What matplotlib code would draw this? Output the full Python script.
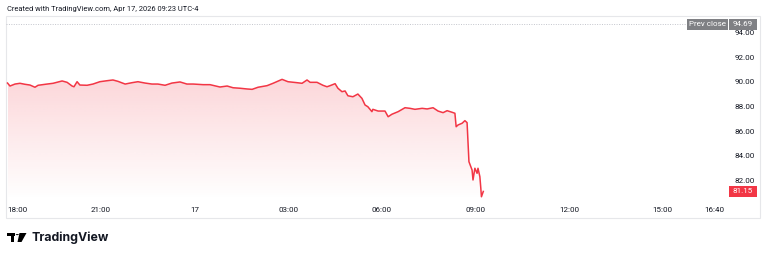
import numpy as np
import matplotlib
matplotlib.use("Agg")
import matplotlib.pyplot as plt
from matplotlib.patches import Rectangle, Polygon, Circle
from matplotlib.transforms import blended_transform_factory

# ---- data (hours since 18:00 previous day, price) ----
hours = [0.00, 0.08, 0.24, 0.40, 0.56, 0.72, 0.88, 0.98, 1.27, 1.46, 1.75, 1.91, 2.07, 2.13,
         2.23, 2.32, 2.55, 2.74, 2.96, 3.19, 3.38, 3.54, 3.77, 3.99, 4.18, 4.41, 4.63, 4.82,
         5.05, 5.27, 5.53, 5.75, 5.95, 6.27, 6.49, 6.81, 7.04, 7.23, 7.45, 7.68, 7.84, 8.03,
         8.32, 8.51, 8.80, 8.99, 9.28, 9.44, 9.60, 9.70, 9.92, 10.11, 10.24, 10.34, 10.50,
         10.59, 10.72, 10.82, 10.91, 11.07, 11.23, 11.36, 11.46, 11.55, 11.68, 11.71, 11.88,
         12.10, 12.20, 12.32, 12.52, 12.74, 12.90, 13.06, 13.29, 13.45, 13.64, 13.80, 13.96,
         14.09, 14.25, 14.34, 14.38, 14.44, 14.57, 14.66, 14.73, 14.79, 14.89, 14.92, 14.98,
         15.05, 15.08, 15.14, 15.17, 15.19, 15.25]
prices = [89.94, 89.70, 89.86, 89.92, 89.84, 89.78, 89.60, 89.76, 89.86, 89.92, 90.11, 90.00,
          89.70, 89.64, 90.05, 89.78, 89.76, 89.86, 90.05, 90.13, 90.19, 90.08, 89.86, 89.97,
          90.05, 89.94, 89.86, 89.86, 89.76, 89.94, 90.03, 89.86, 89.86, 89.81, 89.81, 89.62,
          89.70, 89.56, 89.52, 89.46, 89.43, 89.60, 89.73, 89.92, 90.24, 90.05, 89.97, 89.92,
          90.19, 90.00, 90.00, 89.76, 89.64, 89.73, 89.89, 89.52, 89.24, 89.30, 88.91, 88.83,
          89.05, 88.70, 88.16, 88.02, 87.62, 87.81, 87.67, 87.67, 87.21, 87.41, 87.62, 87.94,
          87.89, 87.81, 87.89, 87.84, 87.94, 87.67, 87.54, 87.70, 87.57, 87.49, 86.40, 86.54,
          86.68, 86.89, 86.73, 83.56, 82.89, 82.08, 83.03, 82.62, 83.03, 82.35, 81.42, 80.72,
          81.15]
prev_close = 94.69
last_price = 81.15
price_ticks = [82, 84, 86, 88, 90, 92, 94]
time_ticks = [0, 3, 6, 9, 12, 15, 18, 21, 22 + 40 / 60]
time_labels = ["18:00", "21:00", "17", "03:00", "06:00", "09:00", "12:00", "15:00", "16:40"]
header = "Created with TradingView.com, Apr 17, 2026 09:23 UTC-4"

RED = "#f23645"
GRAY = "#7f8084"
TXT = "#131722"
W, H = 768, 256

fig = plt.figure(figsize=(W / 100, H / 100), dpi=100)
fig.patch.set_facecolor("white")

px_l, px_r, px_t, px_b = 6, 760, 16, 200
ax = fig.add_axes([px_l / W, 1 - px_b / H, (px_r - px_l) / W, (px_b - px_t) / H])
ax.set_facecolor("none")
for s in ax.spines.values():
    s.set_visible(False)
ax.set_xticks([])
ax.set_yticks([])

ppu = 12.33
pph = 31.2
x0_px = 7.5
ymax = 94 + (33 - px_t) / ppu
ymin = 94 - (px_b - 33) / ppu
xmin = (px_l - x0_px) / pph
xmax = (px_r - x0_px) / pph

t = np.array(hours)
v = np.array(prices)

# gradient fill under the line
verts = np.vstack([np.column_stack([t, v]), [[t[-1], ymin], [t[0], ymin]]])
clip = Polygon(verts, closed=True, transform=ax.transData, facecolor="none", edgecolor="none")
ax.add_patch(clip)
top = v.max()
n = 256
grad = np.zeros((n, 1, 4))
grad[:, 0, 0] = 242 / 255
grad[:, 0, 1] = 54 / 255
grad[:, 0, 2] = 69 / 255
grad[:, 0, 3] = np.linspace(0.0, 0.2, n)
im = ax.imshow(grad, extent=[t.min(), t.max(), ymin, top], origin="lower",
               aspect="auto", zorder=1, interpolation="bilinear")
im.set_clip_path(clip)
ax.set_xlim(xmin, xmax)
ax.set_ylim(ymin, ymax)

ax.plot(t, v, color=RED, lw=1.1, zorder=3, solid_joinstyle="round")

xfrac_line_end = (687 - px_l) / (px_r - px_l)
ax.axhline(prev_close, xmin=0, xmax=xfrac_line_end, color="#c3c5cc", lw=0.7,
           ls=(0, (1, 1.5)), zorder=2)

tr = blended_transform_factory(ax.transAxes, ax.transData)
def fx(px):
    return (px - px_l) / (px_r - px_l)

FAM = ["Roboto", "DejaVu Sans"]
FS = 5.8
lab_font = dict(family=FAM, fontsize=FS, color=TXT)
for p in price_ticks:
    ax.text(fx(755), p, f"{p:.2f}", transform=tr, ha="right", va="center", **lab_font)

bh = 10.5 / ppu
ax.add_patch(Rectangle((fx(687), prev_close - bh / 2), fx(728) - fx(687), bh,
                       transform=tr, facecolor=GRAY, edgecolor="none", zorder=5, clip_on=False))
ax.add_patch(Rectangle((fx(729), prev_close - bh / 2), fx(757) - fx(729), bh,
                       transform=tr, facecolor=GRAY, edgecolor="none", zorder=5, clip_on=False))
ax.text((fx(687) + fx(728)) / 2, prev_close, "Prev close", transform=tr, ha="center",
        va="center", color="white", fontsize=FS, family=FAM, zorder=6)
ax.text((fx(729) + fx(757)) / 2, prev_close, f"{prev_close:.2f}", transform=tr, ha="center",
        va="center", color="white", fontsize=FS, family=FAM, zorder=6)
ax.add_patch(Rectangle((fx(729), last_price - bh / 2), fx(757) - fx(729), bh,
                       transform=tr, facecolor=RED, edgecolor="none", zorder=5, clip_on=False))
ax.text((fx(729) + fx(757)) / 2, last_price, f"{last_price:.2f}", transform=tr, ha="center",
        va="center", color="white", fontsize=FS, family=FAM, zorder=6)

trx = blended_transform_factory(ax.transData, ax.transAxes)
ylab = -10 / (px_b - px_t)
for i, (tt, lab) in enumerate(zip(time_ticks, time_labels)):
    ax.text(tt, ylab, lab, transform=trx, ha="left" if i == 0 else "center", va="center",
            clip_on=False, **lab_font)

fig.add_artist(Rectangle((px_l / W, 1 - 218 / H), (px_r - px_l) / W, (218 - px_t) / H,
                         transform=fig.transFigure, facecolor="none", edgecolor="#e6e7ea",
                         lw=0.8, zorder=0))

fig.text(7 / W, 1 - 9 / H, header, ha="left", va="center", fontsize=5.45,
         family=FAM, color=TXT)

def P(x, y):
    return (x / W, 1 - y / H)
fig.add_artist(Polygon([P(7, 233), P(15, 233), P(15, 236), P(14, 236), P(14, 242),
                        P(11, 242), P(11, 236), P(7, 236)], closed=True,
                       transform=fig.transFigure, facecolor="black", edgecolor="none"))
fig.add_artist(Circle(P(17.3, 234.6), 1.6 / W, transform=fig.transFigure,
                      facecolor="black", edgecolor="none"))
fig.add_artist(Polygon([P(19.5, 233), P(26.5, 233), P(21.5, 242), P(17.5, 242)], closed=True,
                       transform=fig.transFigure, facecolor="black", edgecolor="none"))
fig.text(31.5 / W, 1 - 237.5 / H, "TradingView", ha="left", va="center", fontsize=8.9,
         family=["Inter", "DejaVu Sans"], fontweight="bold", color="#131722")

fig.savefig("out.png", dpi=100, facecolor="white")
